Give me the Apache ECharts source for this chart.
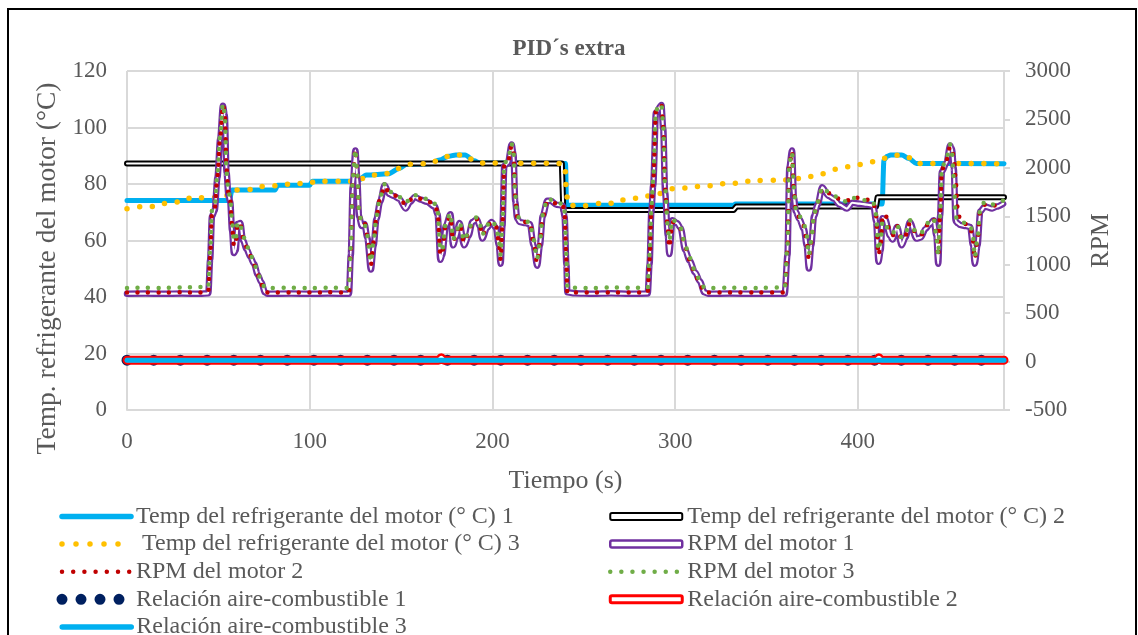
<!DOCTYPE html>
<html><head><meta charset="utf-8">
<script src="https://cdn.jsdelivr.net/npm/echarts@6/dist/echarts.min.js"></script>
<style>html,body{margin:0;padding:0;background:#fff}#c{width:1138px;height:635px}</style>
</head><body><div id="c"></div>
<script>
const chartTitle = 'PID´s extra';
const xName = 'Tiempo (s)';
const yLeftName = 'Temp. refrigerante del motor (°C)';
const yRightName = 'RPM';
const seriesNames = [
  'Temp del refrigerante del motor (° C) 1',
  'Temp del refrigerante del motor (° C) 2',
  ' Temp del refrigerante del motor (° C) 3',
  'RPM del motor 1',
  'RPM del motor 2',
  'RPM del motor 3',
  'Relación aire-combustible 1',
  'Relación aire-combustible 2',
  'Relación aire-combustible 3'
];

// Temperature series (left axis, °C)
const tT1 = [0, 56, 57.5, 81, 82.5, 100, 101.5, 126, 131, 143, 149, 153, 166, 171, 176, 180, 185, 190, 193, 240, 240.6, 332, 333, 413.3, 414.3, 416, 418, 424, 428, 432, 480];
const temp1 = [74.2, 74.2, 77.9, 77.9, 79.6, 79.6, 81, 81, 83.2, 83.6, 85.5, 87, 87.2, 88.5, 89.8, 90.3, 90.3, 88.2, 87.4, 87.3, 72.5, 72.5, 72.9, 72.9, 88.5, 89.8, 90.3, 90.3, 89, 87.3, 87.2];

const tT2 = [0, 238, 238.8, 332, 333.5, 410, 410.8, 480];
const temp2 = [87.3, 87.3, 70.8, 70.8, 72, 72, 75.3, 75.3];

const tT3 = [0, 8, 15, 21.7, 29, 35, 50, 56, 59, 69, 75.4, 83, 89.4, 100, 103.6, 118, 126, 131.8, 140, 145.5, 149, 155, 165, 171, 176, 180, 185, 190, 194, 238.5, 239.8, 240.5, 242, 250, 260.3, 267.6, 273, 281, 290, 300.4, 307.7, 314, 321, 327.7, 335, 342, 357, 364, 370.5, 380, 389.6, 397, 404, 410, 416, 422, 428, 433, 480];
const temp3 = [71.2, 72, 72, 73.2, 73.7, 75.1, 75.2, 76, 77.9, 78.1, 79.3, 79.4, 80, 80.3, 81, 81, 81, 82.9, 83.5, 84.1, 85.5, 87, 87.2, 88.5, 89.8, 90.3, 90.3, 88.2, 87.4, 87.3, 85, 76, 72.4, 72.3, 73.2, 73.2, 74.7, 75.1, 76.5, 78.5, 78.6, 79.3, 79.4, 80.2, 80.3, 81.2, 81.3, 81.6, 82.2, 83.6, 85.4, 86.4, 87.2, 88.1, 89.3, 90.2, 89.3, 87.3, 87.2];

// RPM series (right axis)
const tR = [0, 10, 20, 30, 40, 44.5, 45.5, 46.5, 48, 49.5, 51, 52.5, 53.5, 54.5, 55.5, 56.5, 57.5, 58.5, 59.5, 60.5, 62, 63.5, 65.5, 67.5, 69.5, 71.5, 73.5, 75.5, 77, 90, 100, 110, 121.5, 122.5, 123.5, 125, 126, 127, 128.5, 130, 131.5, 133.5, 135, 136.5, 138.5, 141, 143.5, 146, 149, 152.5, 155, 157.5, 161, 164, 168.5, 170, 171.5, 172.5, 174.5, 177, 178.5, 180, 182, 184.5, 187, 189, 191.5, 193, 194.5, 197, 199.5, 202, 203.5, 204.5, 205.5, 206.5, 208.5, 210.5, 211.5, 212.5, 213.5, 215, 218, 220.5, 222.5, 224.5, 226, 227.5, 230, 232, 235, 238.5, 239.5, 240.5, 241, 245, 255, 265, 275, 285, 286, 287, 288, 289.5, 292.5, 293.5, 294.5, 296, 296.8, 298.5, 301, 303, 305.5, 308, 311, 313.5, 316, 318, 330, 345, 360, 361.5, 362.5, 364, 365, 366, 368, 370.5, 372, 373.2, 374.5, 376, 378, 380.5, 384, 387, 390, 394, 397, 401, 405, 408.5, 410, 411.3, 412.5, 413.5, 415, 417.5, 419, 421.5, 424, 426, 428.5, 432, 434.5, 437, 439.5, 441.5, 443, 444, 445, 446, 448.5, 450.5, 451.5, 452.5, 453.5, 454.5, 456, 459, 461.5, 463, 464, 465.5, 467, 469.5, 473.5, 476, 479.5];
const rpm1 = [700, 702, 700, 703, 700, 705, 1050, 1500, 1560, 1900, 2300, 2640, 2550, 1950, 1720, 1650, 1350, 1120, 1150, 1420, 1430, 1250, 1160, 1080, 1010, 900, 820, 715, 700, 702, 700, 703, 700, 1100, 1800, 2180, 1900, 1500, 1400, 1420, 1280, 950, 1200, 1470, 1650, 1820, 1730, 1710, 1680, 1580, 1650, 1700, 1670, 1650, 1600, 1520, 1050, 1100, 1400, 1520, 1200, 1280, 1430, 1200, 1300, 1440, 1470, 1400, 1270, 1380, 1440, 1380, 1200, 1010, 1400, 2020, 2050, 2240, 2150, 1650, 1480, 1440, 1430, 1420, 1200, 990, 1200, 1500, 1660, 1660, 1620, 1610, 1500, 1000, 715, 705, 700, 705, 700, 703, 1000, 1550, 1820, 2570, 2650, 2400, 1750, 1300, 1110, 1460, 1430, 1380, 1150, 1040, 920, 830, 715, 700, 703, 700, 700, 1100, 2000, 2180, 1700, 1550, 1470, 1370, 1200, 960, 1200, 1500, 1620, 1800, 1710, 1680, 1620, 1580, 1640, 1630, 1620, 1610, 1450, 1030, 1150, 1480, 1470, 1300, 1260, 1390, 1200, 1280, 1440, 1270, 1280, 1370, 1420, 1460, 1300, 1010, 1500, 1960, 2050, 2230, 2200, 2000, 1450, 1430, 1410, 1400, 1390, 1200, 1010, 1200, 1550, 1600, 1580, 1600, 1630];
const rpm2 = [712, 714, 712, 715, 712, 716, 1080, 1520, 1580, 1920, 2320, 2650, 2580, 1980, 1740, 1660, 1400, 1200, 1200, 1430, 1420, 1280, 1180, 1090, 1000, 900, 800, 712, 712, 714, 712, 715, 712, 1150, 1850, 2190, 1950, 1520, 1420, 1430, 1300, 1000, 1230, 1490, 1680, 1810, 1740, 1720, 1690, 1620, 1670, 1700, 1680, 1660, 1620, 1540, 1100, 1120, 1420, 1500, 1240, 1300, 1420, 1230, 1320, 1450, 1470, 1410, 1300, 1400, 1440, 1390, 1230, 1050, 1420, 2030, 2060, 2230, 2160, 1700, 1500, 1460, 1440, 1430, 1230, 1020, 1220, 1490, 1650, 1650, 1630, 1620, 1520, 1050, 712, 714, 712, 714, 712, 714, 1050, 1580, 1850, 2580, 2650, 2420, 1780, 1350, 1180, 1440, 1420, 1370, 1180, 1050, 900, 800, 712, 712, 714, 712, 712, 1150, 2020, 2170, 1750, 1560, 1490, 1400, 1250, 1050, 1230, 1510, 1640, 1780, 1740, 1700, 1680, 1660, 1700, 1690, 1670, 1650, 1500, 1100, 1200, 1500, 1520, 1350, 1300, 1400, 1260, 1300, 1430, 1320, 1300, 1390, 1450, 1470, 1320, 1080, 1520, 1980, 2080, 2220, 2200, 2100, 1900, 1600, 1460, 1420, 1400, 1250, 1060, 1250, 1560, 1620, 1600, 1620, 1650];
const rpm3 = [760, 762, 760, 765, 770, 770, 1150, 1560, 1600, 1950, 2350, 2660, 2560, 1950, 1760, 1680, 1450, 1250, 1250, 1440, 1400, 1300, 1200, 1110, 1020, 920, 830, 760, 760, 762, 760, 763, 760, 1200, 1880, 2190, 1950, 1550, 1430, 1420, 1300, 1030, 1250, 1500, 1700, 1830, 1760, 1730, 1700, 1640, 1680, 1720, 1690, 1680, 1630, 1560, 1150, 1150, 1430, 1530, 1260, 1320, 1440, 1250, 1340, 1460, 1490, 1430, 1310, 1410, 1460, 1400, 1260, 1100, 1450, 2050, 2080, 2250, 2170, 1720, 1510, 1470, 1450, 1440, 1260, 1060, 1240, 1510, 1680, 1670, 1640, 1630, 1550, 1100, 760, 762, 760, 765, 762, 765, 1100, 1600, 1880, 2600, 2660, 2430, 1800, 1400, 1250, 1470, 1430, 1380, 1200, 1070, 930, 840, 765, 760, 762, 760, 765, 1200, 2050, 2160, 1800, 1580, 1500, 1420, 1300, 1100, 1250, 1520, 1650, 1800, 1750, 1710, 1690, 1650, 1690, 1680, 1660, 1640, 1520, 1150, 1250, 1450, 1400, 1360, 1320, 1410, 1280, 1320, 1460, 1330, 1320, 1400, 1460, 1480, 1300, 1100, 1500, 2000, 2100, 2240, 2150, 1900, 1500, 1450, 1440, 1430, 1410, 1300, 1080, 1280, 1580, 1650, 1620, 1630, 1660];

// Air-fuel ratio series (right axis)
const tA = [0, 170.5, 172, 173.5, 410, 411.5, 413, 480];
const afr1 = [14.7, 14.7, 14.7, 14.7, 14.7, 14.7, 14.7, 14.7];
const afr2 = [14.7, 14.7, 40, 14.7, 14.7, 40, 14.7, 14.7];
const afr3 = [14.7, 14.7, 14.7, 14.7, 14.7, 14.7, 14.7, 14.7];

const FONT = '"Liberation Serif", "Times New Roman", serif';
const GREY = '#595959';
const GRID = '#d9d9d9';
const pairs = (ts, vs) => ts.map((t, i) => [t, vs[i]]);

function line(name, yIdx, data, ls, smooth) {
  return {
    name: name, type: 'line', yAxisIndex: yIdx, data: data,
    symbol: 'none', showSymbol: false, silent: true,
    smooth: smooth ? 0.3 : false, smoothMonotone: 'x',
    lineStyle: Object.assign({ cap: 'round', join: 'round' }, ls),
    emphasis: { disabled: true }
  };
}

const series = [
  line(seriesNames[0], 0, pairs(tT1, temp1), { color: '#00b0f0', width: 5 }, true),
  line(seriesNames[1], 0, pairs(tT2, temp2), { color: '#000000', width: 6 }, false),
  line('_t2in', 0, pairs(tT2, temp2), { color: '#ffffff', width: 2 }, false),
  line(seriesNames[2], 0, pairs(tT3, temp3), { color: '#ffc000', width: 5.5, type: [0, 12.7] }, true),
  line(seriesNames[3], 1, pairs(tR, rpm1), { color: '#7030a0', width: 6.5 }, true),
  line('_r1in', 1, pairs(tR, rpm1), { color: '#ffffff', width: 2.2 }, true),
  line(seriesNames[4], 1, pairs(tR, rpm2), { color: '#c00000', width: 4.5, type: [0, 10.5] }, true),
  line(seriesNames[5], 1, pairs(tR, rpm3), { color: '#70ad47', width: 4.5, type: [0, 10.5] }, true),
  line(seriesNames[6], 1, pairs(tA, afr1), { color: '#002060', width: 11, type: [0, 26.7] }, false),
  line(seriesNames[7], 1, pairs(tA, afr2), { color: '#ff0000', width: 9 }, true),
  line('_a2in', 1, pairs(tA, afr2), { color: '#ffffff', width: 4 }, true),
  line(seriesNames[8], 1, pairs(tA, afr3), { color: '#00b0f0', width: 5 }, true)
];

const hideSym = { opacity: 0 };
const legendText = { fontFamily: FONT, fontSize: 24, color: GREY };
const col1 = [
  { name: seriesNames[0], itemStyle: hideSym, lineStyle: { width: 5.5, color: '#00b0f0', cap: 'round' } },
  { name: seriesNames[2], itemStyle: hideSym, lineStyle: { width: 5.5, color: '#ffc000', type: [0, 14], cap: 'round' } },
  { name: seriesNames[4], itemStyle: hideSym, lineStyle: { width: 4.5, color: '#c00000', type: [0, 11.2], cap: 'round' } },
  { name: seriesNames[6], itemStyle: hideSym, lineStyle: { width: 11, color: '#002060', type: [0, 19], cap: 'round' } }
];
const col1b = [
  { name: seriesNames[8], itemStyle: hideSym, lineStyle: { width: 5.5, color: '#00b0f0', cap: 'round' } }
];
const col2 = [
  { name: seriesNames[1], icon: 'roundRect', itemStyle: { color: '#fff', borderColor: '#000', borderWidth: 2 } },
  { name: seriesNames[3], icon: 'roundRect', itemStyle: { color: '#fff', borderColor: '#7030a0', borderWidth: 2.5 } },
  { name: seriesNames[5], itemStyle: hideSym, lineStyle: { width: 4.5, color: '#70ad47', type: [0, 11.1], cap: 'round' } },
  { name: seriesNames[7], icon: 'roundRect', itemStyle: { color: '#fff', borderColor: '#ff0000', borderWidth: 3 } }
];

function legendBlock(left, top, width, data) {
  return { orient: 'vertical', left: left, top: top, padding: 0, itemWidth: width, itemHeight: 7, itemGap: 3.6,
    selectedMode: false, textStyle: legendText, data: data };
}

const chart = echarts.init(document.getElementById('c'), null, { renderer: 'canvas' });
chart.setOption({
  animation: false,
  backgroundColor: '#ffffff',
  title: {
    text: chartTitle, left: 'center', top: 33,
    textStyle: { fontFamily: FONT, fontSize: 23, fontWeight: 'bold', color: GREY }
  },
  grid: { left: 127, right: 134, top: 71, bottom: 225, containLabel: false },
  legend: [
    legendBlock(56.5, 504.5, 69, col1),
    legendBlock(59.5, 615, 69, col1b),
    legendBlock(608, 504.5, 72, col2)
  ],
  xAxis: {
    type: 'value', min: 0, max: 480, interval: 100,
    name: xName, nameLocation: 'middle', nameGap: 58,
    nameTextStyle: { fontFamily: FONT, fontSize: 26, color: GREY },
    axisLine: { show: true, lineStyle: { color: GRID, width: 2 } },
    axisTick: { show: false },
    splitLine: { show: true, lineStyle: { color: GRID, width: 2 } },
    axisLabel: { margin: 20, fontFamily: FONT, fontSize: 23, color: GREY, showMaxLabel: false,
      formatter: v => (v % 100 === 0 ? String(v) : '') }
  },
  yAxis: [
    {
      type: 'value', min: 0, max: 120, interval: 20, position: 'left',
      name: yLeftName, nameLocation: 'middle', nameGap: 63,
      nameTextStyle: { fontFamily: FONT, fontSize: 27.5, color: GREY, padding: [0, 56, 0, 0] },
      axisLine: { show: false }, axisTick: { show: false },
      splitLine: { show: true, lineStyle: { color: GRID, width: 2 } },
      axisLabel: { margin: 20, fontFamily: FONT, fontSize: 23, color: GREY }
    },
    {
      type: 'value', min: -500, max: 3000, interval: 500, position: 'right',
      name: yRightName, nameLocation: 'middle', nameGap: 84,
      nameTextStyle: { fontFamily: FONT, fontSize: 26, color: GREY },
      axisLine: { show: true, lineStyle: { color: GRID, width: 2 } },
      axisTick: { show: true, inside: false, length: 6, lineStyle: { color: GRID, width: 2 } },
      splitLine: { show: false },
      axisLabel: { margin: 21, fontFamily: FONT, fontSize: 23, color: GREY, formatter: v => String(v) }
    }
  ],
  graphic: [
    { type: 'rect', silent: true, z: 100,
      shape: { x: 8, y: 9, width: 1128, height: 640 },
      style: { fill: 'transparent', stroke: '#000000', lineWidth: 2 } }
  ],
  series: series
});
</script>
</body></html>
